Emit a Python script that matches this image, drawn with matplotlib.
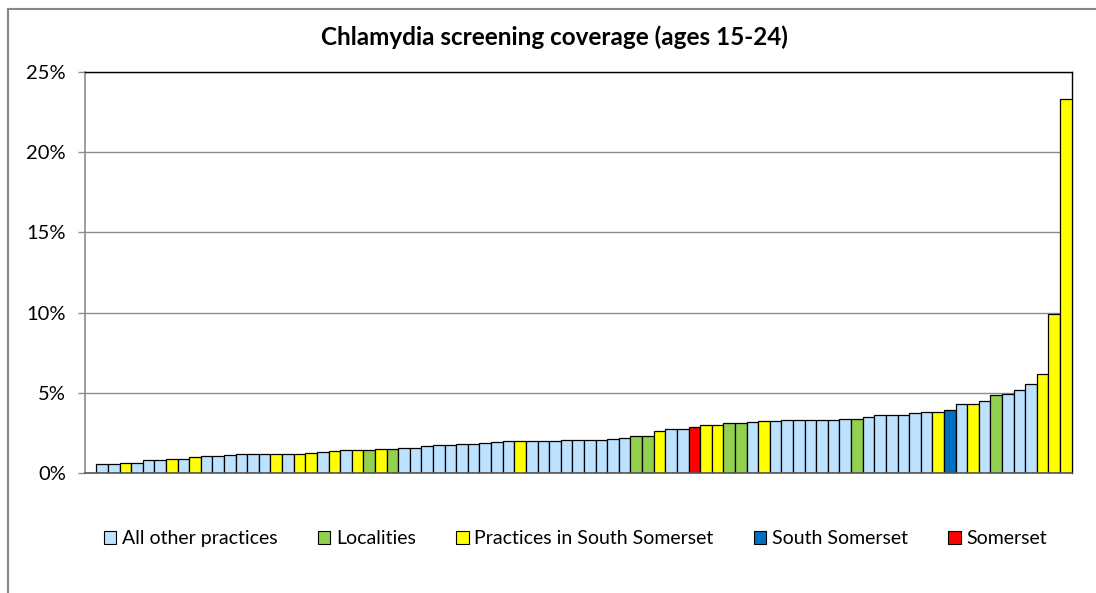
import matplotlib
matplotlib.use("Agg")
import matplotlib.pyplot as plt
from matplotlib.patches import Patch, Rectangle

# Screening coverage (%) per practice / area, sorted ascending
coverage = [
    0.56, 0.58, 0.60, 0.64, 0.79, 0.83, 0.87, 0.89, 1.02, 1.05,
    1.06, 1.12, 1.16, 1.16, 1.20, 1.20, 1.20, 1.20, 1.25, 1.29,
    1.35, 1.45, 1.45, 1.45, 1.52, 1.52, 1.58, 1.58, 1.70, 1.73,
    1.77, 1.83, 1.83, 1.85, 1.93, 1.97, 1.97, 2.02, 2.02, 2.02,
    2.06, 2.06, 2.08, 2.08, 2.14, 2.20, 2.33, 2.33, 2.64, 2.72,
    2.72, 2.89, 3.01, 3.01, 3.14, 3.14, 3.18, 3.26, 3.26, 3.28,
    3.28, 3.28, 3.28, 3.33, 3.39, 3.39, 3.51, 3.60, 3.64, 3.64,
    3.74, 3.80, 3.83, 3.93, 4.32, 4.32, 4.47, 4.88, 4.95, 5.15,
    5.55, 6.19, 9.90, 23.30,
]

# Group of each bar: O = all other practices, L = localities,
# P = practices in South Somerset, S = South Somerset, M = Somerset
groups = list(
    "OOPOOOPOPO"
    "OOOOOPOPPO"
    "POPLPLOOOO"
    "OOOOOOPOOO"
    "OOOOOOLLPO"
    "OMPPLLOPOO"
    "OOOOOLOOOO"
    "OOPSOPOLOO"
    "OPPP"
)

group_labels = {
    "O": "All other practices",
    "L": "Localities",
    "P": "Practices in South Somerset",
    "S": "South Somerset",
    "M": "Somerset",
}
group_colors = {
    "O": "#BDE2FF",
    "L": "#92D050",
    "P": "#FFFF00",
    "S": "#0070C0",
    "M": "#FF0000",
}
legend_order = ["O", "L", "P", "S", "M"]

y_ticks = [0, 5, 10, 15, 20, 25]
y_tick_labels = ["0%", "5%", "10%", "15%", "20%", "25%"]

FONT = ["Lato", "DejaVu Sans"]

fig = plt.figure(figsize=(10.96, 5.93), dpi=100)
ax = fig.add_axes([0.0773, 0.2024, 0.9005, 0.6762])

x = list(range(len(coverage)))
ax.bar(x, coverage, width=1.0,
       color=[group_colors[g] for g in groups],
       edgecolor="black", linewidth=0.9, zorder=3)

ax.set_xlim(-1.5, len(coverage) - 0.5)
ax.set_ylim(0, 25)
ax.set_yticks(y_ticks)
ax.set_yticklabels(y_tick_labels, fontfamily=FONT, fontsize=14.5)
ax.set_xticks([])
ax.yaxis.grid(True, color="#8C8C8C", linewidth=1.0, zorder=0)
ax.tick_params(axis="y", direction="out", length=5, width=1.0,
               color="#8C8C8C", pad=8.5)

for side in ("top", "right"):
    ax.spines[side].set_color("black")
    ax.spines[side].set_linewidth(1.0)
ax.spines["left"].set_color("#8C8C8C")
ax.spines["left"].set_linewidth(1.2)
ax.spines["bottom"].set_color("#555555")
ax.spines["bottom"].set_linewidth(1.2)
ax.spines["bottom"].set_zorder(4)

fig.text(0.506, 0.937, "Chlamydia screening coverage (ages 15-24)",
         ha="center", va="center", fontsize=17.5, fontweight="bold",
         fontfamily=FONT)

handles = [Patch(facecolor=group_colors[k], edgecolor="black", linewidth=0.8,
                 label=group_labels[k]) for k in legend_order]
fig.legend(handles=handles, loc="center", bbox_to_anchor=(0.525, 0.092),
           ncol=5, frameon=False, prop={"family": FONT, "size": 14},
           handlelength=0.65, handleheight=0.65, handletextpad=0.3,
           columnspacing=2.05)

# Outer chart border
fig.patches.append(Rectangle((7.5 / 1096, -0.1), 1.2, 1.1 - 9.5 / 593,
                             transform=fig.transFigure, fill=False,
                             edgecolor="#888888", linewidth=1.5))

fig.savefig("out.png", dpi=100)
